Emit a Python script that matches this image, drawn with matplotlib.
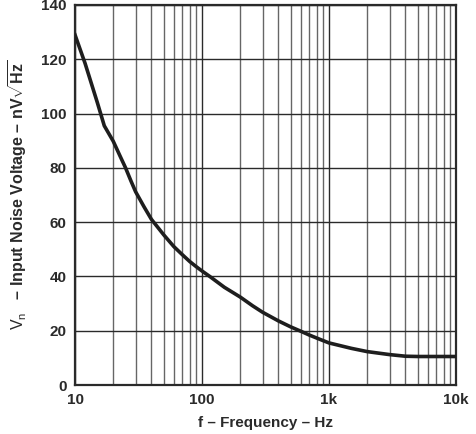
import numpy as np
import matplotlib
matplotlib.use("Agg")
import matplotlib.pyplot as plt
from matplotlib.ticker import FixedLocator, NullFormatter

plt.rcParams['font.family'] = ['Liberation Sans', 'DejaVu Sans']
plt.rcParams['mathtext.fontset'] = 'custom'
plt.rcParams['mathtext.rm'] = 'Liberation Sans'
plt.rcParams['mathtext.it'] = 'Liberation Sans'
plt.rcParams['mathtext.bf'] = 'Liberation Sans:bold'

# values
freq_hz = [10, 12, 15, 17, 20, 22.5, 25, 27.5, 30, 35, 40, 45, 50, 60, 70, 80, 90, 100,
           115, 150, 200, 250, 300, 400, 500, 600, 700, 850, 1000, 1500, 2000, 3000,
           4000, 5000, 7000, 10000]
noise_nv = [129, 118.5, 104, 95.5, 89.8, 84.6, 80, 75.3, 71.2, 65.6, 61, 58, 55.3, 51,
            48, 45.5, 43.6, 42, 40, 36, 32.4, 29.2, 26.8, 23.6, 21.4, 19.8, 18.4, 16.8,
            15.5, 13.5, 12.3, 11.2, 10.6, 10.5, 10.5, 10.5]

x_ticks = [10, 100, 1000, 10000]
x_labels = ['10', '100', '1k', '10k']
y_ticks = [0, 20, 40, 60, 80, 100, 120, 140]

fig = plt.figure(figsize=(4.76, 4.34), dpi=100)
ax = fig.add_axes([0.1576, 0.1129, 0.8004, 0.8756])

ax.set_xscale('log')
ax.set_xlim(10, 10000)
ax.set_ylim(0, 140)

minor = [m * d for d in (10, 100, 1000) for m in range(2, 10)]
ax.xaxis.set_major_locator(FixedLocator(x_ticks))
ax.xaxis.set_minor_locator(FixedLocator(minor))
ax.xaxis.set_minor_formatter(NullFormatter())
ax.set_xticks(x_ticks)
ax.set_xticklabels(x_labels)
ax.set_yticks(y_ticks)

ax.grid(True, which='major', color='#2a2a2a', linewidth=1.0)
ax.grid(True, which='minor', axis='x', color='#666666', linewidth=1.0)
ax.set_axisbelow(True)

ax.plot(freq_hz, noise_nv, color='#1e1e1e', linewidth=2.6, solid_joinstyle='round', zorder=3)

for s in ax.spines.values():
    s.set_color('#2a2a2a')
    s.set_linewidth(1.6)

ax.tick_params(which='both', length=0, labelsize=11, pad=6, colors='#2a2a2a')
for lbl in ax.get_xticklabels() + ax.get_yticklabels():
    lbl.set_fontweight('bold')

ax.set_xlabel('f – Frequency – Hz', fontsize=11, fontweight='bold', color='#2a2a2a', labelpad=6)
ax.set_ylabel(r'$\mathrm{V_{n}}$   – Input Noise Voltage – nV$\sqrt{\mathbf{Hz}}$',
              fontsize=11.5, fontweight='bold', color='#2a2a2a', labelpad=9)

fig.savefig('out.png', dpi=100)
